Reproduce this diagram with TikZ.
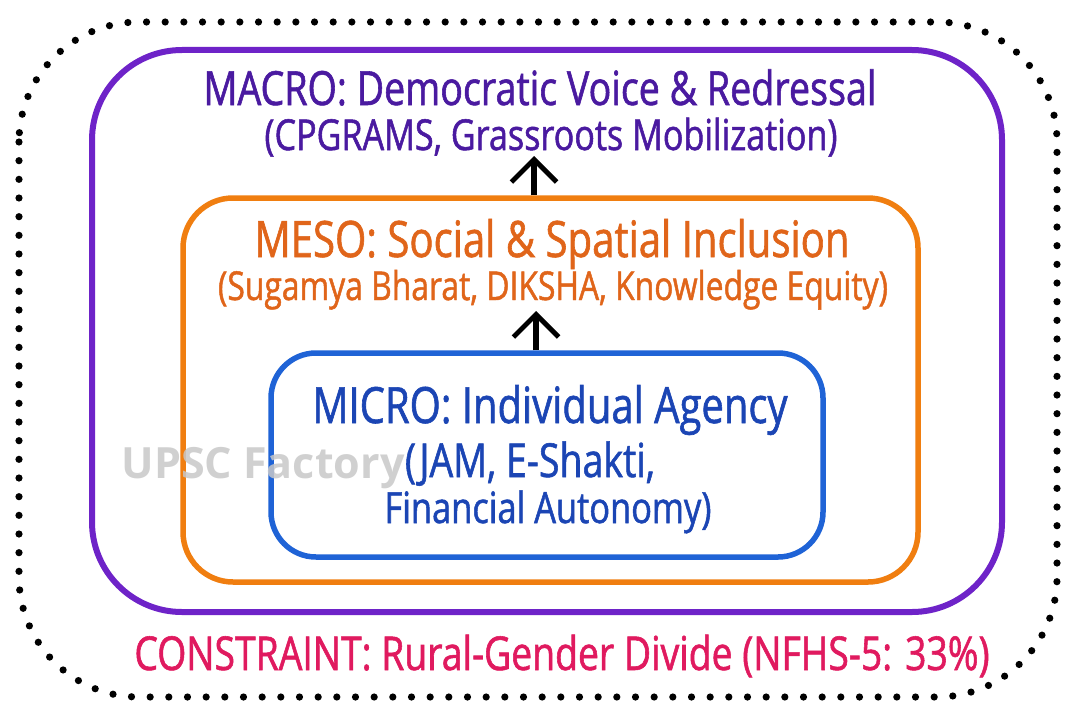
\documentclass[tikz,border=0pt]{standalone}
\usepackage{fontspec}
\usepackage{graphicx}
\usetikzlibrary{arrows.meta}
\setmainfont{Open Sans}[FakeStretch=0.8, FakeBold=1.2]
\newfontfamily\wmfont{Open Sans}[BoldFont={* Bold}]
\newdimen\px \px=0.75pt
\definecolor{purpline}{HTML}{6E23C8}
\definecolor{purptext}{HTML}{4A1AA0}
\definecolor{orangeline}{HTML}{F07E10}
\definecolor{orangetext}{HTML}{E0651A}
\definecolor{blueline}{HTML}{1F63D6}
\definecolor{bluetext}{HTML}{1B45B4}
\definecolor{pinktext}{HTML}{E01A5F}
\definecolor{wmgray}{HTML}{C8C8C8}
\newcommand\fitw[2]{\resizebox{#1\px}{!}{#2}}
\tikzset{
  layerbox/.style={rectangle, inner sep=0pt, line width=5.5\px},
  txt/.style={inner sep=0pt, anchor=base},
  uparrow/.style={-{Straight Barb[length=17pt,width=34pt,line width=3.6pt]}, line width=3.8pt, black},
  dotline/.style={line width=5.4pt, line cap=round, dash pattern=on 0pt off 14pt},
}
\begin{document}
\begin{tikzpicture}[x=0.75pt,y=-0.75pt]
\useasboundingbox (0,0) rectangle (1080,717);
% outer dotted boundary
\draw[dotline, rounded corners=90pt] (19,22) rectangle (1057,697);
% boxes
\node[layerbox, draw=purpline, line width=6\px, rounded corners=90\px, minimum width=910\px, minimum height=562\px] (macro) at (547,331) {};
\node[layerbox, draw=orangeline, rounded corners=50\px, minimum width=735\px, minimum height=384\px] (meso) at (550.5,390) {};
\node[layerbox, draw=blueline, rounded corners=45\px, minimum width=552\px, minimum height=204\px] (micro) at (547,455) {};
% texts
\node[txt, text=purptext] (macrot) at (540,105) {\fitw{673}{MACRO: Democratic Voice \& Redressal}};
\node[txt, text=purptext] (macros) at (551,150) {\fitw{573}{(CPGRAMS, Grassroots Mobilization)}};
\node[txt, text=orangetext] (mesot) at (552,257) {\fitw{595}{MESO: Social \& Spatial Inclusion}};
\node[txt, text=orangetext] (mesos) at (553,300) {\fitw{670}{(Sugamya Bharat, DIKSHA, Knowledge Equity)}};
\node[txt, text=bluetext] (microt) at (550,423) {\fitw{475}{MICRO: Individual Agency}};
\node[txt, text=bluetext] (micros1) at (530,477) {\fitw{250}{(JAM, E-Shakti,}};
\node[txt, text=bluetext] (micros2) at (548,523) {\fitw{327}{Financial Autonomy)}};
\node[txt, text=pinktext] (constraint) at (562,670) {\fitw{855}{CONSTRAINT: Rural-Gender Divide (NFHS-5: 33\%)}};
\node[txt, text=wmgray, opacity=0.85] (wm) at (263,478) {\fitw{283}{\wmfont\bfseries UPSC Factory}};
% arrows
\coordinate (a1) at (534,156);
\coordinate (a2) at (536,311);
\draw[uparrow] (meso.north -| a1) -- (a1);
\draw[uparrow] (micro.north -| a2) -- (a2);
\end{tikzpicture}
\end{document}
